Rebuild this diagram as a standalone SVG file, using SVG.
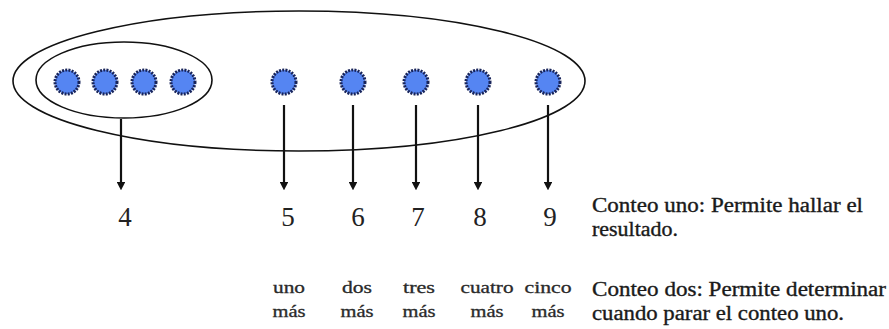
<svg xmlns="http://www.w3.org/2000/svg" width="889" height="329" viewBox="0 0 889 329">
<defs>
<style>
.ell{fill:none;stroke:#111;stroke-width:1.6}
.dot{fill:#5585f2;stroke:#18245a;stroke-width:3;stroke-dasharray:2 1.2}
.arr{stroke:#111;stroke-width:2.2;fill:none}
.num{font-family:"Liberation Serif","Times New Roman",serif;font-size:27px;fill:#222;text-anchor:middle}
.sm{font-family:"Liberation Serif","Times New Roman",serif;font-size:16px;fill:#2a2a2a;stroke:#2a2a2a;stroke-width:0.3;text-anchor:middle}
.txt{font-family:"Liberation Serif","Times New Roman",serif;font-size:20px;fill:#1a1a1a;stroke:#1a1a1a;stroke-width:0.35}
</style>
<marker id="ah" viewBox="0 0 10 10" refX="5" refY="5" markerWidth="4" markerHeight="4" orient="auto" markerUnits="strokeWidth">
<path d="M0,0 L10,5 L0,10 z" fill="#111"/>
</marker>
</defs>
<rect width="889" height="329" fill="#fff"/>
<g id="outer"><ellipse class="ell" cx="299" cy="81" rx="286" ry="70"/></g>
<g id="inner"><ellipse class="ell" cx="124" cy="80" rx="88" ry="38"/></g>
<g id="dots">
<circle class="dot" cx="67" cy="82" r="12"/>
<circle class="dot" cx="105" cy="82" r="12"/>
<circle class="dot" cx="144" cy="82" r="12"/>
<circle class="dot" cx="183" cy="82" r="12"/>
<circle class="dot" cx="284" cy="82" r="12"/>
<circle class="dot" cx="353" cy="82" r="12"/>
<circle class="dot" cx="416" cy="82" r="12"/>
<circle class="dot" cx="478" cy="82" r="12"/>
<circle class="dot" cx="548" cy="82" r="12"/>
</g>
<g id="connectors">
<line class="arr" x1="121" y1="119" x2="121" y2="186" marker-end="url(#ah)"/>
<line class="arr" x1="284" y1="105" x2="284" y2="186" marker-end="url(#ah)"/>
<line class="arr" x1="353" y1="105" x2="353" y2="186" marker-end="url(#ah)"/>
<line class="arr" x1="416" y1="105" x2="416" y2="186" marker-end="url(#ah)"/>
<line class="arr" x1="478" y1="105" x2="478" y2="186" marker-end="url(#ah)"/>
<line class="arr" x1="548" y1="105" x2="548" y2="186" marker-end="url(#ah)"/>
</g>
<g id="numbers">
<text class="num" x="125" y="226">4</text>
<text class="num" x="288" y="226">5</text>
<text class="num" x="358" y="226">6</text>
<text class="num" x="418" y="226">7</text>
<text class="num" x="480" y="226">8</text>
<text class="num" x="550" y="226">9</text>
</g>
<g id="labels">
<text class="sm" x="289" y="293" textLength="32" lengthAdjust="spacingAndGlyphs">uno</text><text class="sm" x="289" y="317" textLength="33" lengthAdjust="spacingAndGlyphs">más</text>
<text class="sm" x="357" y="293" textLength="30" lengthAdjust="spacingAndGlyphs">dos</text><text class="sm" x="357" y="317" textLength="33" lengthAdjust="spacingAndGlyphs">más</text>
<text class="sm" x="419" y="293" textLength="32" lengthAdjust="spacingAndGlyphs">tres</text><text class="sm" x="419" y="317" textLength="33" lengthAdjust="spacingAndGlyphs">más</text>
<text class="sm" x="487" y="293" textLength="53" lengthAdjust="spacingAndGlyphs">cuatro</text><text class="sm" x="487" y="317" textLength="33" lengthAdjust="spacingAndGlyphs">más</text>
<text class="sm" x="548" y="293" textLength="47" lengthAdjust="spacingAndGlyphs">cinco</text><text class="sm" x="548" y="317" textLength="33" lengthAdjust="spacingAndGlyphs">más</text>
</g>
<g id="notes">
<text class="txt" x="592" y="212" textLength="271" lengthAdjust="spacingAndGlyphs">Conteo uno: Permite hallar el</text>
<text class="txt" x="592" y="236" textLength="86" lengthAdjust="spacingAndGlyphs">resultado.</text>
<text class="txt" x="592" y="296" textLength="294" lengthAdjust="spacingAndGlyphs">Conteo dos: Permite determinar</text>
<text class="txt" x="592" y="320" textLength="252" lengthAdjust="spacingAndGlyphs">cuando parar el conteo uno.</text>
</g>
</svg>
